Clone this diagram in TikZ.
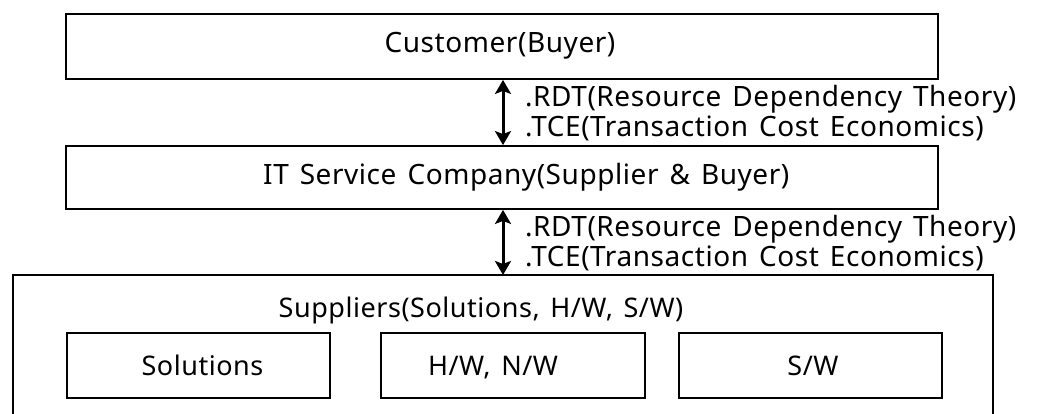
\documentclass[tikz,border=0pt]{standalone}
\usepackage{fontspec}
\setmainfont[WordSpace=1.4,LetterSpace=2]{Noto Sans}
\usetikzlibrary{arrows.meta}
\begin{document}
\begin{tikzpicture}[x=1pt,y=-1pt,
  box/.style={draw, line width=1.8pt, rectangle, inner sep=0pt},
  txt/.style={inner sep=0pt, font=\fontsize{28}{30}\selectfont},
  lbl/.style={txt, anchor=west},
  arr/.style={{Stealth[length=14pt,width=16pt,inset=3pt]}-{Stealth[length=14pt,width=16pt,inset=3pt]}, line width=3pt},
  inbox/.style={box, minimum height=65pt, text height=22pt, text depth=3pt, font=\fontsize{27}{30}\selectfont}]
\useasboundingbox (0,0) rectangle (1041,414);
\node[box, minimum width=872pt, minimum height=65pt] (cust) at (502,46.5) {};
\node[txt] (custt) at (500,46) {Customer(Buyer)};
\node[box, minimum width=872pt, minimum height=63pt] (it) at (502,177.5) {};
\node[txt, anchor=west] (itt) at (263,177) {IT Service Company(Supplier \& Buyer)};
\draw[line width=1.8pt] (13,414) |- (993,275) -- (993,414);
\coordinate (suptop) at (503,275);
\coordinate (ax) at (503,0);
\node[txt, font=\fontsize{27}{30}\selectfont] (suptitle) at (481,310) {Suppliers(Solutions, H/W, S/W)};
\node[inbox, minimum width=263pt] (sol) at (198.5,365.5) {\hspace*{8pt}Solutions};
\node[inbox, minimum width=264pt] (hw) at (513,365.5) {\hspace*{-40pt}H/W, N/W};
\node[inbox, minimum width=263pt] (sw) at (810.5,365.5) {\hspace*{5pt}S/W};
\draw[arr] (cust.south -| ax) -- (it.north -| ax);
\draw[arr] (it.south -| ax) -- (suptop);
\node[lbl] (r1) at (525,99) {.RDT(Resource Dependency Theory)};
\node[lbl] (t1) at (525,128) {.TCE(Transaction Cost Economics)};
\node[lbl] (r2) at (525,229) {.RDT(Resource Dependency Theory)};
\node[lbl] (t2) at (525,258) {.TCE(Transaction Cost Economics)};
\end{tikzpicture}
\end{document}
